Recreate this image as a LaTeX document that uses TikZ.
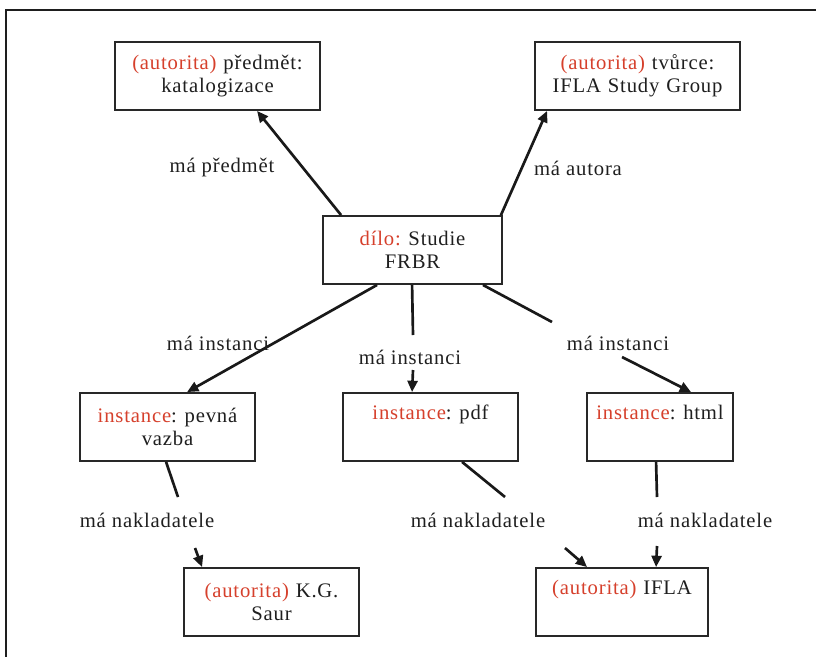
\documentclass[tikz,border=0pt]{standalone}
\usepackage{fontspec}
\setmainfont[LetterSpace=4]{Liberation Serif}
\usetikzlibrary{arrows.meta,calc}
\definecolor{autred}{RGB}{214,64,44}
\definecolor{boxgray}{RGB}{40,40,40}
\definecolor{framegray}{RGB}{30,30,30}
\begin{document}
\begin{tikzpicture}[x=0.75pt,y=-0.75pt,
  font=\fontsize{15.5}{17}\selectfont,
  box/.style={draw=boxgray, line width=1.4pt, fill=white, inner xsep=0pt, inner ysep=0pt,
    minimum height=51pt, align=center, text=black!88},
  lbl/.style={text=black!88, inner sep=1pt},
  conn/.style={line width=2pt, draw=black!90},
  arr/.style={conn, -{Triangle[length=8.5pt,width=7.5pt]}}]
\useasboundingbox (0,0) rectangle (816,657);
\draw[framegray, line width=1.5pt] (816,10) -- (6,10) -- (6,657);

\node[box, text width=153.75pt] (predmet) at (217.5,76) {\textcolor{autred}{(autorita)} předmět:\\katalogizace};
\node[box, text width=153.75pt] (tvurce) at (637.5,76) {\textcolor{autred}{(autorita)} tvůrce:\\IFLA Study Group};
\node[box, text width=134.25pt] (dilo) at (412.5,250) {\textcolor{autred}{dílo:}\kern-2pt{} Studie\\FRBR};
\node[box, text width=131.25pt] (pevna) at (167.5,427) {\textcolor{autred}{instance}:\kern-2pt{} pevná\\vazba};
\node[box, text width=131.25pt] (pdf) at (430.5,427) {\textcolor{autred}{instance}:\kern-2pt{} pdf\\\strut};
\node[box, text width=109.5pt] (html) at (660,427) {\textcolor{autred}{instance}:\kern-2pt{} html\\\strut};
\node[box, text width=131.25pt] (saur) at (271.5,602) {\textcolor{autred}{(autorita)} K.G.\\Saur};
\node[box, text width=129pt] (ifla) at (622,602) {\textcolor{autred}{(autorita)} IFLA\\\strut};

\draw[arr] ($(dilo.north west)+(19,0)$) -- ($(predmet.south west)+(143,0)$);
\draw[arr] ($(dilo.north east)+(-2,0)$) -- ($(tvurce.south west)+(13,0)$);
\draw[arr] ($(dilo.south west)+(55,0)$) -- ($(pevna.north west)+(108,0)$);

\coordinate (m1) at (413,335); \coordinate (m2) at (413,370);
\draw[conn] ($(dilo.south west)+(90,0)$) -- (m1);
\draw[arr] (m2) -- ($(pdf.north west)+(70,0)$);

\coordinate (r1) at (552,322); \coordinate (r2) at (622,357);
\draw[conn] ($(dilo.south east)+(-20,0)$) -- (r1);
\draw[arr] (r2) -- ($(html.north west)+(105,0)$);

\coordinate (p1) at (178,497); \coordinate (p2) at (195,548);
\draw[conn] ($(pevna.south west)+(87,0)$) -- (p1);
\draw[arr] (p2) -- ($(saur.north west)+(19,0)$);

\coordinate (d1) at (505,497); \coordinate (d2) at (565,548);
\draw[conn] ($(pdf.south west)+(120,0)$) -- (d1);
\draw[arr] (d2) -- ($(ifla.north west)+(52,0)$);

\coordinate (h1) at (657,497); \coordinate (h2) at (657,546);
\draw[conn] ($(html.south west)+(70,0)$) -- (h1);
\draw[arr] (h2) -- ($(ifla.north west)+(121,0)$);

\node[lbl] (l1) at (222,168) {má předmět};
\node[lbl] (l2) at (578,168) {má autora};
\node[lbl] (l3) at (218,343) {má instanci};
\node[lbl] (l4) at (410,357) {má instanci};
\node[lbl] (l5) at (618,343) {má instanci};
\node[lbl] (l6) at (147,520) {má nakladatele};
\node[lbl] (l7) at (478,520) {má nakladatele};
\node[lbl] (l8) at (705,520) {má nakladatele};
\end{tikzpicture}
\end{document}
